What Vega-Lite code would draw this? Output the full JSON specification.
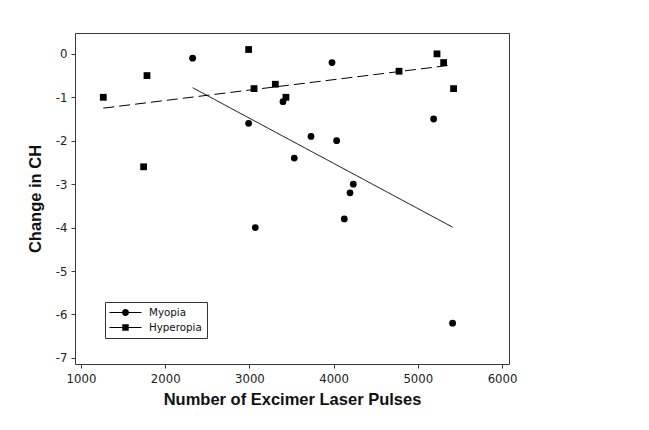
{
  "$schema": "https://vega.github.io/schema/vega-lite/v6.json",
  "width": 434,
  "height": 331,
  "autosize": {"type": "none"},
  "padding": {"left": 75, "top": 33, "right": 140, "bottom": 66},
  "background": "white",
  "config": {
    "view": {"stroke": "#3a3a3a", "strokeWidth": 1},
    "axis": {
      "grid": false,
      "domain": false,
      "tickColor": "#3a3a3a",
      "tickSize": 4,
      "labelFont": "DejaVu Sans Condensed",
      "labelFontSize": 13,
      "labelColor": "#222222",
      "titleFont": "Liberation Sans",
      "titleFontSize": 16.5,
      "titleFontWeight": "bold",
      "titleColor": "#111111"
    }
  },
  "datasets": {
    "points": [
      {"pulses": 1265, "ch": -1.0, "type": "Hyperopia"},
      {"pulses": 1784, "ch": -0.5, "type": "Hyperopia"},
      {"pulses": 1744, "ch": -2.6, "type": "Hyperopia"},
      {"pulses": 2991, "ch": 0.1, "type": "Hyperopia"},
      {"pulses": 3055, "ch": -0.8, "type": "Hyperopia"},
      {"pulses": 3308, "ch": -0.7, "type": "Hyperopia"},
      {"pulses": 3434, "ch": -1.0, "type": "Hyperopia"},
      {"pulses": 4777, "ch": -0.4, "type": "Hyperopia"},
      {"pulses": 5228, "ch": 0.0, "type": "Hyperopia"},
      {"pulses": 5307, "ch": -0.2, "type": "Hyperopia"},
      {"pulses": 5425, "ch": -0.8, "type": "Hyperopia"},
      {"pulses": 2326, "ch": -0.1, "type": "Myopia"},
      {"pulses": 2991, "ch": -1.6, "type": "Myopia"},
      {"pulses": 3070, "ch": -4.0, "type": "Myopia"},
      {"pulses": 3399, "ch": -1.1, "type": "Myopia"},
      {"pulses": 3533, "ch": -2.4, "type": "Myopia"},
      {"pulses": 3732, "ch": -1.9, "type": "Myopia"},
      {"pulses": 3981, "ch": -0.2, "type": "Myopia"},
      {"pulses": 4036, "ch": -2.0, "type": "Myopia"},
      {"pulses": 4127, "ch": -3.8, "type": "Myopia"},
      {"pulses": 4195, "ch": -3.2, "type": "Myopia"},
      {"pulses": 4234, "ch": -3.0, "type": "Myopia"},
      {"pulses": 5188, "ch": -1.5, "type": "Myopia"},
      {"pulses": 5413, "ch": -6.2, "type": "Myopia"}
    ],
    "fits": [
      {"pulses": 2326, "ch": -0.78, "type": "Myopia"},
      {"pulses": 5413, "ch": -3.99, "type": "Myopia"},
      {"pulses": 1265, "ch": -1.25, "type": "Hyperopia"},
      {"pulses": 5394, "ch": -0.26, "type": "Hyperopia"}
    ]
  },
  "encoding": {
    "x": {
      "field": "pulses",
      "type": "quantitative",
      "scale": {"domain": [929, 6083], "nice": false, "zero": false},
      "axis": {
        "title": "Number of Excimer Laser Pulses",
        "values": [1000, 2000, 3000, 4000, 5000, 6000],
        "format": "d",
        "labelPadding": 4,
        "titlePadding": 6
      }
    },
    "y": {
      "field": "ch",
      "type": "quantitative",
      "scale": {"domain": [-7.14, 0.48], "nice": false, "zero": false},
      "axis": {
        "title": "Change in CH",
        "values": [-7, -6, -5, -4, -3, -2, -1, 0],
        "labelExpr": "toString(datum.value)",
        "labelPadding": 4,
        "titlePadding": 12
      }
    }
  },
  "layer": [
    {
      "data": {"name": "fits"},
      "mark": {"type": "line", "color": "black", "strokeWidth": 1},
      "encoding": {
        "strokeDash": {
          "field": "type",
          "type": "nominal",
          "scale": {"domain": ["Hyperopia", "Myopia"], "range": [[11, 5], [1, 0]]},
          "legend": null
        }
      }
    },
    {
      "data": {"name": "points"},
      "mark": {"type": "point", "filled": true, "color": "black", "opacity": 1, "size": 46},
      "encoding": {
        "shape": {
          "field": "type",
          "type": "nominal",
          "scale": {"domain": ["Myopia", "Hyperopia"], "range": ["circle", "square"]},
          "legend": null
        }
      }
    },
    {
      "data": {"name": "points"},
      "transform": [{"filter": "datum.ch > 100"}],
      "mark": {"type": "point", "filled": true, "color": "black", "opacity": 1},
      "encoding": {
        "shape": {
          "field": "type",
          "type": "nominal",
          "scale": {
            "domain": ["Myopia", "Hyperopia"],
            "range": [
              "M-3.2,-0.1H-0.65V0.1H-3.2ZM0.65,-0.1H3.2V0.1H0.65ZM0.7,0A0.7,0.7,0,1,1,-0.7,0A0.7,0.7,0,1,1,0.7,0Z",
              "M-3.2,-0.1H-0.6V0.1H-3.2ZM0.6,-0.1H3.2V0.1H0.6ZM-0.64,-0.64H0.64V0.64H-0.64Z"
            ]
          },
          "legend": {
            "title": null,
            "orient": "none",
            "legendX": 30,
            "legendY": 269,
            "strokeColor": "#333333",
            "fillColor": "white",
            "padding": 5,
            "rowPadding": 4,
            "symbolSize": 100,
            "symbolOffset": 10,
            "labelOffset": 18,
            "labelFont": "DejaVu Sans",
            "labelFontSize": 10.3,
            "labelColor": "#111111",
            "symbolFillColor": "black",
            "symbolStrokeColor": "black",
            "symbolStrokeWidth": 1,
            "symbolOpacity": 1
          }
        }
      }
    }
  ],
  "resolve": {"scale": {"shape": "independent"}}
}
